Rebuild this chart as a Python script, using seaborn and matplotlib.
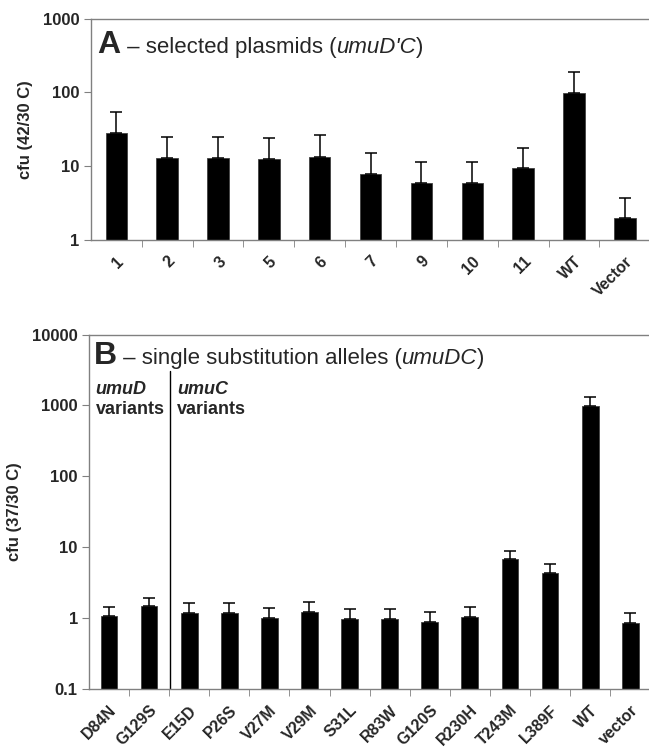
import numpy as np
import pandas as pd
import matplotlib
matplotlib.use("Agg")
import matplotlib.pyplot as plt
import seaborn as sns

# panel A - selected plasmids (umuD'C), cfu 42/30 C
plasmids = ["1", "2", "3", "5", "6", "7", "9", "10", "11", "WT", "Vector"]
plasmid_cfu = [28, 12.9, 12.9, 12.5, 13.4, 7.9, 5.9, 5.9, 9.4, 98, 1.95]
plasmid_top = [54, 25, 25, 24, 26, 14.9, 11.3, 11.3, 17.4, 191, 3.66]

# panel B - single substitution alleles (umuDC), cfu 37/30 C
alleles = ["D84N", "G129S", "E15D", "P26S", "V27M", "V29M", "S31L", "R83W",
           "G120S", "R230H", "T243M", "L389F", "WT", "vector"]
allele_cfu = [1.06, 1.45, 1.18, 1.18, 1.0, 1.23, 0.96, 0.96, 0.89, 1.04,
              6.77, 4.33, 968, 0.85]
allele_top = [1.43, 1.92, 1.61, 1.61, 1.39, 1.68, 1.33, 1.33, 1.22, 1.43,
              8.9, 5.75, 1313, 1.18]

sns.set_style("white")
plt.rcParams["font.family"] = ["Liberation Sans", "DejaVu Sans"]
GREY = "#808080"


def draw_panel(ax, labels, vals, tops, ylim, ylabel):
    df = pd.DataFrame({"cat": labels, "cfu": vals})
    sns.barplot(data=df, x="cat", y="cfu", color="black", width=0.42,
                edgecolor="#404040", linewidth=0.6, saturation=1, ax=ax)
    err = np.array(tops) - np.array(vals)
    ax.errorbar(np.arange(len(labels)), vals,
                yerr=[np.zeros(len(vals)), err], fmt="none",
                ecolor="black", elinewidth=1.1, capsize=4, capthick=1.1)
    ax.set_yscale("log")
    ax.set_ylim(*ylim)
    ax.set_xlim(-0.5, len(labels) - 0.5)
    ax.minorticks_off()
    ax.yaxis.set_major_formatter(
        matplotlib.ticker.FuncFormatter(lambda v, p: f"{v:g}"))
    for s in ["left", "bottom", "top"]:
        ax.spines[s].set_color(GREY)
        ax.spines[s].set_linewidth(1.0)
    ax.spines["right"].set_visible(False)
    # ticks between categories, labels at category centres
    ax.set_xticks(np.arange(len(labels)))
    ax.set_xticklabels(labels, rotation=45, ha="right",
                       rotation_mode="anchor", fontweight="bold", fontsize=11.5)
    ax.tick_params(axis="x", length=0, pad=10)
    ax.set_xticks(np.arange(len(labels)) + 0.5, minor=True)
    ax.tick_params(axis="x", which="minor", length=5, color=GREY,
                   direction="out", bottom=True)
    ax.tick_params(axis="y", length=5, color=GREY, direction="out",
                   left=True, labelsize=12, pad=3)
    for t in ax.get_yticklabels():
        t.set_fontweight("bold")
    ax.set_xlabel("")
    ax.set_ylabel(ylabel, fontweight="bold", fontsize=12, labelpad=7)


def run_text(ax, x, y, parts):
    # place text pieces one after another on a baseline
    fig.canvas.draw()
    r = fig.canvas.get_renderer()
    px, py = ax.transAxes.transform((x, y))
    for s, kw in parts:
        t = ax.text(px, py, s, transform=None, va="baseline", **kw)
        px = t.get_window_extent(r).x1


fig = plt.figure(figsize=(6.49, 7.47), dpi=100)
ax_a = fig.add_axes([0.140, 0.679, 0.862, 0.296])
ax_b = fig.add_axes([0.137, 0.078, 0.865, 0.474])

draw_panel(ax_a, plasmids, plasmid_cfu, plasmid_top, (1, 1000), "cfu (42/30 C)")
draw_panel(ax_b, alleles, allele_cfu, allele_top, (0.1, 10000), "cfu (37/30 C)")

run_text(ax_a, 0.012, 0.845, [
    ("A", dict(fontsize=23, fontweight="bold")),
    (" – selected plasmids (", dict(fontsize=16)),
    ("umuD'C", dict(fontsize=16, fontstyle="italic")),
    (")", dict(fontsize=16)),
])
run_text(ax_b, 0.008, 0.918, [
    ("B", dict(fontsize=23, fontweight="bold")),
    (" – single substitution alleles (", dict(fontsize=16)),
    ("umuDC", dict(fontsize=16, fontstyle="italic")),
    (")", dict(fontsize=16)),
])

# umuD / umuC group divider and labels
ax_b.plot([1.53, 1.53], [0.1, 3100], color="black", lw=1.0)
xt = ax_b.get_xaxis_transform()
ax_b.text(-0.33, 0.832, "umuD", transform=xt, fontsize=13,
          fontweight="bold", fontstyle="italic", va="baseline")
ax_b.text(-0.33, 0.775, "variants", transform=xt, fontsize=13,
          fontweight="bold", va="baseline")
ax_b.text(1.70, 0.832, "umuC", transform=xt, fontsize=13,
          fontweight="bold", fontstyle="italic", va="baseline")
ax_b.text(1.70, 0.775, "variants", transform=xt, fontsize=13,
          fontweight="bold", va="baseline")

fig.savefig("out.png", dpi=100)
